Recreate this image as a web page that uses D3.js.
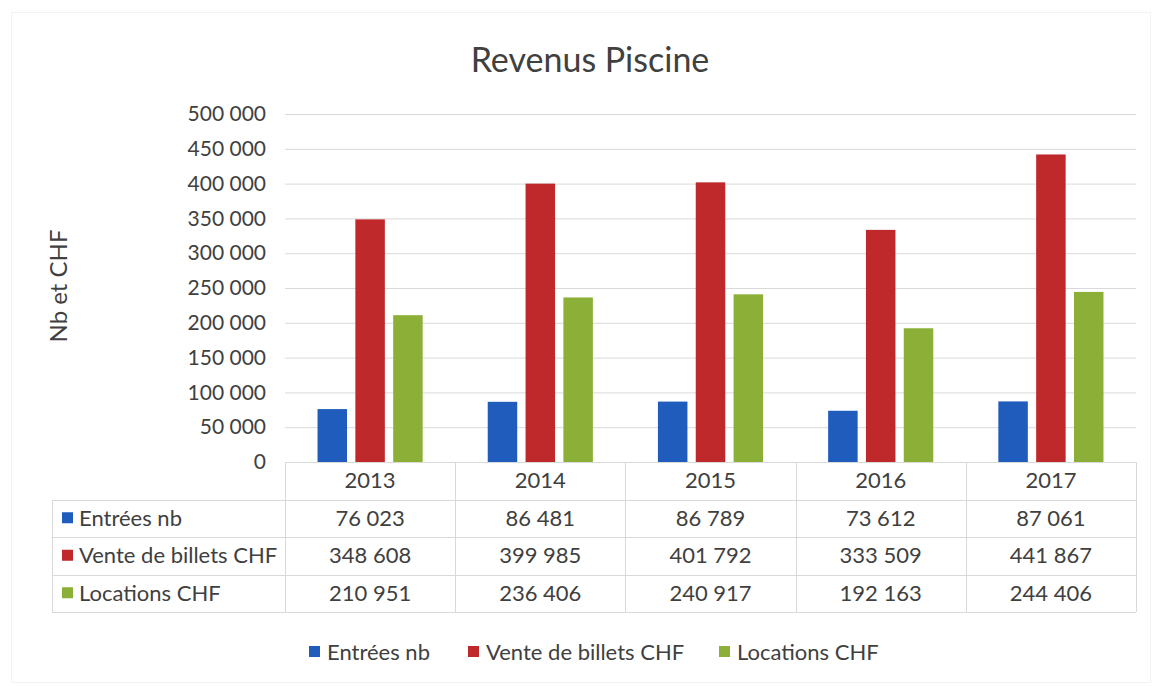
<!DOCTYPE html>
<html>
<head>
<meta charset="utf-8">
<script src="https://cdn.jsdelivr.net/npm/d3@7"></script>
<style>
  html, body { margin: 0; padding: 0; background: #fff; }
  svg { display: block; font-family: Lato, "Open Sans", sans-serif; }
</style>
</head>
<body>
<div id="chart"></div>
<script>
// chart values (table under the plot)
const years = ['2013', '2014', '2015', '2016', '2017'];
const seriesNames = ['Entrées nb', 'Vente de billets CHF', 'Locations CHF'];
const entrees = [76023, 86481, 86789, 73612, 87061];
const venteBillets = [348608, 399985, 401792, 333509, 441867];
const locations = [210951, 236406, 240917, 192163, 244406];
const yTicks = [0, 50000, 100000, 150000, 200000, 250000, 300000, 350000, 400000, 450000, 500000];

const seriesValues = [entrees, venteBillets, locations];
const colors = ['#1f5cbc', '#c0292b', '#8cb037'];

const width = 1153;
const height = 686;
const plotLeft = 285;
const plotRight = 1136;
const plotTop = 114;
const plotBottom = 462;
const tableLeft = 52;
const rowHeight = 37.5;
const textColor = '#404040';
const lineColor = '#d9d9d9';

// fr-CH style numbers: space as thousands separator
const locale = d3.formatLocale({decimal: ',', thousands: ' ', grouping: [3], currency: ['', ' CHF']});
const fmt = locale.format(',d');

const svg = d3.select('#chart').append('svg')
    .attr('width', width)
    .attr('height', height);

// faint outer frame of the chart area
svg.append('rect')
    .attr('x', 11.5).attr('y', 12.5)
    .attr('width', width - 14).attr('height', height - 16)
    .attr('fill', 'none')
    .attr('stroke', '#f2f2f2');

const x0 = d3.scaleBand().domain(years).range([plotLeft, plotRight]);
const x1 = d3.scaleBand().domain(seriesNames).range([0, x0.bandwidth()])
    .paddingInner(0.22).paddingOuter(0.86);
const y = d3.scaleLinear().domain([0, 500000]).range([plotBottom, plotTop]);

// title
svg.append('text')
    .attr('x', 590).attr('y', 72)
    .attr('text-anchor', 'middle')
    .attr('font-size', 34)
    .attr('fill', textColor)
    .text('Revenus Piscine');

// y axis title
svg.append('text')
    .attr('transform', 'translate(67, 286) rotate(-90)')
    .attr('text-anchor', 'middle')
    .attr('font-size', 24)
    .attr('fill', textColor)
    .text('Nb et CHF');

// gridlines
const grid = svg.append('g')
    .attr('transform', `translate(${plotLeft},0)`)
    .call(d3.axisLeft(y).tickValues(yTicks.slice(1)).tickSize(-(plotRight - plotLeft)).tickFormat(''));
grid.select('.domain').remove();
grid.selectAll('line').attr('stroke', lineColor);

// y axis labels
const yAxis = svg.append('g')
    .attr('transform', 'translate(266,0)')
    .call(d3.axisLeft(y).tickValues(yTicks).tickSize(0).tickPadding(0).tickFormat(fmt));
yAxis.select('.domain').remove();
yAxis.selectAll('text')
    .attr('font-size', 21)
    .attr('font-family', 'Lato, "Open Sans", sans-serif')
    .attr('fill', textColor);

// bars
const groups = svg.append('g').selectAll('g')
    .data(years)
    .join('g')
    .attr('transform', (d) => `translate(${x0(d)},0)`);

groups.selectAll('rect')
    .data((d, i) => seriesNames.map((name, s) => ({name: name, value: seriesValues[s][i], color: colors[s]})))
    .join('rect')
    .attr('x', (d) => x1(d.name))
    .attr('width', x1.bandwidth())
    .attr('y', (d) => y(d.value))
    .attr('height', (d) => y(0) - y(d.value))
    .attr('fill', (d) => d.color);

// data table under the plot
const table = svg.append('g');
const tableBottom = plotBottom + rowHeight * 4;

// horizontal lines
table.append('line')
    .attr('x1', plotLeft).attr('x2', plotRight)
    .attr('y1', plotBottom + 0.5).attr('y2', plotBottom + 0.5)
    .attr('stroke', lineColor);
for (let r = 1; r <= 4; r++) {
  let yy = Math.round(plotBottom + rowHeight * r) + 0.5;
  table.append('line')
      .attr('x1', tableLeft).attr('x2', plotRight)
      .attr('y1', yy).attr('y2', yy)
      .attr('stroke', lineColor);
}
// vertical lines
table.append('line')
    .attr('x1', tableLeft + 0.5).attr('x2', tableLeft + 0.5)
    .attr('y1', plotBottom + rowHeight).attr('y2', tableBottom)
    .attr('stroke', lineColor);
years.concat(['end']).forEach((yr, i) => {
  let xx = Math.round(plotLeft + x0.step() * i) + 0.5;
  table.append('line')
      .attr('x1', xx).attr('x2', xx)
      .attr('y1', plotBottom).attr('y2', tableBottom)
      .attr('stroke', lineColor);
});

// year header row
table.selectAll('text.year')
    .data(years)
    .join('text')
    .attr('class', 'year')
    .attr('x', (d) => x0(d) + x0.bandwidth() / 2)
    .attr('y', plotBottom + rowHeight / 2)
    .attr('dy', '0.35em')
    .attr('text-anchor', 'middle')
    .attr('font-size', 22)
    .attr('fill', textColor)
    .text((d) => d);

// series rows
seriesNames.forEach((name, s) => {
  let cy = plotBottom + rowHeight * (s + 1.5);
  table.append('rect')
      .attr('x', 62).attr('y', cy - 6)
      .attr('width', 11).attr('height', 11)
      .attr('fill', colors[s]);
  table.append('text')
      .attr('x', 79).attr('y', cy)
      .attr('dy', '0.35em')
      .attr('font-size', 22)
      .attr('fill', textColor)
      .text(name);
  table.selectAll(`text.v${s}`)
      .data(seriesValues[s])
      .join('text')
      .attr('class', `v${s}`)
      .attr('x', (d, i) => x0(years[i]) + x0.bandwidth() / 2)
      .attr('y', cy)
      .attr('dy', '0.35em')
      .attr('text-anchor', 'middle')
      .attr('font-size', 22)
      .attr('fill', textColor)
      .text((d) => fmt(d));
});

// legend
const legendX = [309, 468, 719];
const legend = svg.append('g');
seriesNames.forEach((name, s) => {
  legend.append('rect')
      .attr('x', legendX[s]).attr('y', 646)
      .attr('width', 11).attr('height', 11)
      .attr('fill', colors[s]);
  legend.append('text')
      .attr('x', legendX[s] + 18).attr('y', 652)
      .attr('dy', '0.35em')
      .attr('font-size', 22)
      .attr('fill', textColor)
      .text(name);
});
</script>
</body>
</html>
